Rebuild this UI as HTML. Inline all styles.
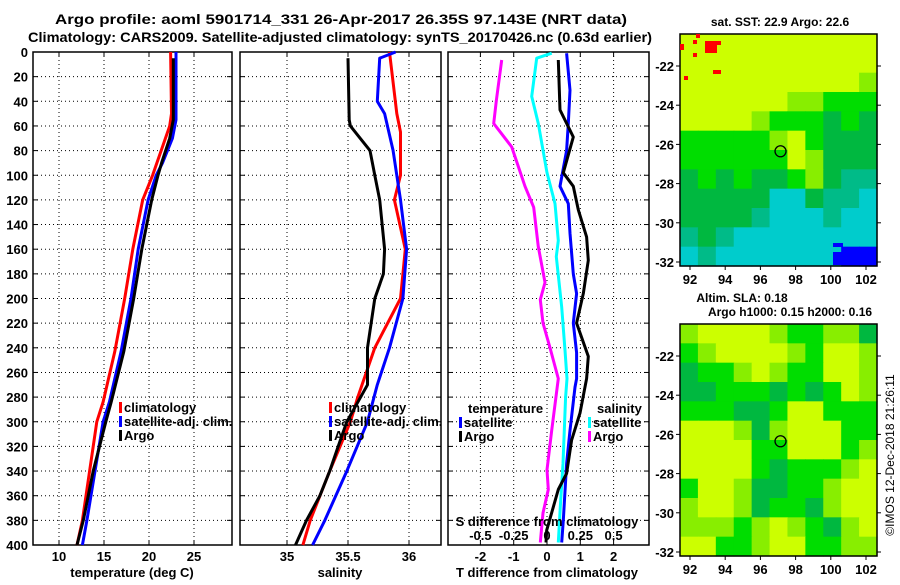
<!DOCTYPE html>
<html><head><meta charset="utf-8"><style>
html,body{margin:0;padding:0;background:#fff;}
svg text{font-family:"Liberation Sans",sans-serif;font-weight:bold;fill:#000;}
</style></head><body>
<svg id="c" xmlns="http://www.w3.org/2000/svg" width="900" height="580" viewBox="0 0 900 580">
<text x="55" y="24" font-size="14" textLength="572" lengthAdjust="spacingAndGlyphs">Argo profile: aoml 5901714_331 26-Apr-2017 26.35S 97.143E (NRT data)</text>
<text x="28" y="42" font-size="14" textLength="624" lengthAdjust="spacingAndGlyphs">Climatology: CARS2009. Satellite-adjusted climatology: synTS_20170426.nc (0.63d earlier)</text>
<g id="g"></g>
</svg>
<script>
// ---- data ----
const depthTicks=[0,20,40,60,80,100,120,140,160,180,200,220,240,260,280,300,320,340,360,380,400];
const tempTicks=[10,15,20,25];
const salTicks=[35,35.5,36];
const salTickLabels=["35","35.5","36"];
const dtTicks=[-2,-1,0,1,2];
const dsTicks=[-0.5,-0.25,0,0.25,0.5];
const dsTickLabels=["-0.5","-0.25","0","0.25","0.5"];
const tClimD=[0,50,60,79,100,120,160,200,243,284,300,340,380,400];
const tClimV=[22.4,22.5,22.3,21.4,20.4,19.3,18.2,17.3,16.2,14.9,14.2,13.4,12.6,12.0];
const tSatD=[0,55,70,90,100,120,160,200,243,284,300,340,380,400];
const tSatV=[23.0,23.0,22.6,21.5,20.8,19.9,18.8,18.0,16.9,15.6,14.9,14.0,13.1,12.6];
const tArgoD=[5,55,70,90,100,120,160,200,243,284,300,340,380,400];
const tArgoV=[22.7,22.7,22.3,21.4,21.0,20.3,19.2,18.3,17.2,15.8,15.2,13.8,12.7,12.0];
const sClimD=[0,50,65,100,120,160,200,240,280,300,340,380,400];
const sClimV=[35.84,35.90,35.93,35.93,35.88,35.97,35.93,35.72,35.58,35.52,35.35,35.19,35.13];
const sSatD=[0,5,40,50,80,100,120,160,200,240,270,300,340,380,400];
const sSatV=[35.89,35.76,35.74,35.80,35.87,35.90,35.93,35.98,35.95,35.84,35.74,35.66,35.49,35.31,35.21];
const sArgoD=[5,55,60,70,80,100,120,160,180,200,240,270,300,320,340,360,380,400];
const sArgoV=[35.5,35.51,35.52,35.6,35.68,35.72,35.76,35.8,35.79,35.72,35.66,35.66,35.49,35.42,35.35,35.27,35.16,35.07];
const dsArgoD=[6.5,39,58,77,109,126,158,187,201,220,239,265,307,339,355,374,398];
const dsArgoV=[-0.34,-0.38,-0.40,-0.265,-0.165,-0.10,-0.065,-0.015,-0.05,-0.03,0.02,0.085,0.035,0.0,0.01,-0.03,-0.05];
const dsSatD=[1,5,36,58,98,123,153,166,207,242,265,280,334,369,398];
const dsSatV=[0.035,-0.077,-0.115,-0.065,0,0.06,0.085,0.07,0.11,0.135,0.15,0.14,0.12,0.10,0.085];
const dtSatD=[1,31,58,80,109,123,147,180,196,220,244,265,272,307,334,380,398];
const dtSatV=[0.59,0.69,0.64,0.59,0.39,0.64,0.69,0.79,0.89,0.79,0.89,0.89,0.84,0.69,0.59,0.49,0.44];
const dtArgoD=[6.5,47,69,98,109,128,150,169,196,220,247,265,293,315,342,355,388,398];
const dtArgoV=[0.34,0.39,0.79,0.49,0.79,0.94,1.19,1.24,1.09,0.89,1.24,1.19,0.99,0.74,0.59,0.34,-0.01,-0.03];
const lonTicks=[92,94,96,98,100,102];
const latTicks=[-22,-24,-26,-28,-30,-32];
const sstGrid=["YYYYYYYYYYY","YYYYYYYYYYY","YYYYYYYYYYL","YYYYYYLLGGG","YYYYLGGGDGD","GGGGGLYGDDD","GGGGGGYLDDD","DGDGDDGLDTT","DDDDDCCDTTC","DDDDTCCCTCC","TDTCCCCCCCC","CTCCCCCCCBB"];
const slaGrid=["LYYYYLGGLLD","GLYYYYLGYYL","DGGLYLGGYYL","DDGGGDGDGYL","GGGDDGYYGGG","YYYLDLYYYGG","YYYYGGYYYGL","YYYYGDGGGLY","GYYLDDGGLYY","LYYLDGGDLYY","LLLGLYLGDLY","YYGGLYYGGLL"];
const palette={Y:"#ccff00",L:"#88ee00",G:"#00dd00",D:"#00b840",T:"#00bb88",C:"#00cccc",B:"#0000ff"};
const argoLon=97.143, argoLat=-26.35;

// ---- helpers ----
const NS="http://www.w3.org/2000/svg";
const G=document.getElementById('g');
function mk(tag,attrs,parent){const e=document.createElementNS(NS,tag);for(const k in attrs)e.setAttribute(k,attrs[k]);(parent||G).appendChild(e);return e;}
const Y0=52,Y1=545;
const yD=d=>Y0+d*(Y1-Y0)/400;
const xT=t=>59+(t-10)*9;
const xS=s=>287+(s-35)*122;
const xDT=v=>547+v*33.3;
const xDS=v=>547+v*133.2;

function panel(name,x0,x1,vx){
  const grid=mk('g',{});
  
  
  depthTicks.forEach(d=>{
    if(d>0&&d<400){mk('line',{x1:x0,x2:x1,y1:yD(d),y2:yD(d),stroke:'#000','stroke-width':1,'stroke-dasharray':'1,3'},grid);}
    mk('line',{x1:x0,x2:x0+5,y1:yD(d),y2:yD(d),stroke:'#000','stroke-width':1},grid);
    mk('line',{x1:x1-5,x2:x1,y1:yD(d),y2:yD(d),stroke:'#000','stroke-width':1},grid);
  });
  vx.forEach(x=>{
    mk('line',{x1:x,x2:x,y1:Y0,y2:Y1,stroke:'#000','stroke-width':1,'stroke-dasharray':'1,3'},grid);
    mk('line',{x1:x,x2:x,y1:Y1-5,y2:Y1,stroke:'#000','stroke-width':1},grid);
    mk('line',{x1:x,x2:x,y1:Y0,y2:Y0+5,stroke:'#000','stroke-width':1},grid);
  });
  const r=mk('rect',{x:x0,y:Y0,width:x1-x0,height:Y1-Y0,fill:'none',stroke:'#000','stroke-width':1.5});
  
  
}
function line(name,ds,vs,fx,color){
  const p=ds.map((d,i)=>fx(vs[i]).toFixed(1)+','+yD(d).toFixed(1)).join(' ');
  const e=mk('polyline',{points:p,fill:'none',stroke:color,'stroke-width':3,'stroke-linejoin':'round'});
  
  
}
function txt(name,x,y,s,size,anchor){
  const e=mk('text',{x:x,y:y,'font-size':size||13,'text-anchor':anchor||'start'});
  e.textContent=s;
  
  
  return e;
}
function legend(name,x,y,color,label){
  const b=mk('rect',{x:x,y:y-10,width:3,height:11,fill:color});
  
  
  txt(name+'-label',x+5,y,label,13);
}

// ---- panel 1: temperature ----
panel('temperature-panel',33,232,tempTicks.map(xT));
depthTicks.forEach(d=>txt('depth-tick-'+d,28,yD(d)+5,String(d),13,'end'));
tempTicks.forEach(t=>txt('temp-tick-'+t,xT(t),561,String(t),13,'middle'));
txt('temperature-axis-title',132,577,'temperature (deg C)',13,'middle');
line('temp-climatology-line',tClimD,tClimV,xT,'#ff0000');
line('temp-satellite-line',tSatD,tSatV,xT,'#0000ff');
line('temp-argo-line',tArgoD,tArgoV,xT,'#000000');
legend('temp-legend-climatology',119,412,'#ff0000','climatology');
legend('temp-legend-satellite',119,426,'#0000ff','satellite-adj. clim.');
legend('temp-legend-argo',119,440,'#000000','Argo');

// ---- panel 2: salinity ----
panel('salinity-panel',240,441,salTicks.map(xS));
salTicks.forEach((s,i)=>txt('sal-tick-'+i,xS(s),561,salTickLabels[i],13,'middle'));
txt('salinity-axis-title',340,577,'salinity',13,'middle');
line('sal-climatology-line',sClimD,sClimV,xS,'#ff0000');
line('sal-satellite-line',sSatD,sSatV,xS,'#0000ff');
line('sal-argo-line',sArgoD,sArgoV,xS,'#000000');
legend('sal-legend-climatology',329,412,'#ff0000','climatology');
legend('sal-legend-satellite',329,426,'#0000ff','satellite-adj. clim.');
legend('sal-legend-argo',329,440,'#000000','Argo');

// ---- panel 3: differences ----
panel('difference-panel',448,649,dtTicks.map(xDT));
dtTicks.forEach(t=>txt('dt-tick-'+t,xDT(t),561,String(t),13,'middle'));
txt('t-diff-axis-title',547,577,'T difference from climatology',13,'middle');
line('ds-argo-line',dsArgoD,dsArgoV,xDS,'#ff00ff');
line('ds-satellite-line',dsSatD,dsSatV,xDS,'#00ffff');
line('dt-satellite-line',dtSatD,dtSatV,xDT,'#0000ff');
line('dt-argo-line',dtArgoD,dtArgoV,xDT,'#000000');
txt('s-diff-axis-title',547,526,'S difference from climatology',13,'middle');
dsTicks.forEach((s,i)=>txt('ds-tick-'+i,xDS(s),540,dsTickLabels[i],13,'middle'));
txt('legend-temperature-heading',468,413,'temperature',13);
legend('diff-legend-t-satellite',459,427,'#0000ff','satellite');
legend('diff-legend-t-argo',459,441,'#000000','Argo');
txt('legend-salinity-heading',597,413,'salinity',13);
legend('diff-legend-s-satellite',588,427,'#00ffff','satellite');
legend('diff-legend-s-argo',588,441,'#ff00ff','Argo');

// ---- maps ----
function map(name,gridRows,top,bottom,latRef){
  const x0=680,x1=877,w=x1-x0,h=bottom-top;
  const lonX=lo=>690+(lo-92)*17.6;
  const latY=la=>latRef+(-22-la)*19.6;
  const rows=gridRows.length, cols=gridRows[0].length;
  const cw=w/cols, ch=h/rows;
  const cg=mk('g',{});
  
  
  gridRows.forEach((row,r)=>{for(let c=0;c<cols;c++){
    mk('rect',{x:(x0+c*cw).toFixed(2),y:(top+r*ch).toFixed(2),width:(cw+0.6).toFixed(2),height:(ch+0.6).toFixed(2),fill:palette[row[c]]},cg);
  }});
  const f=mk('rect',{x:x0,y:top,width:w,height:h,fill:'none',stroke:'#000','stroke-width':1.5});
  
  
  latTicks.forEach(la=>{
    mk('line',{x1:x0-4,x2:x0,y1:latY(la),y2:latY(la),stroke:'#000'});
    mk('line',{x1:x1,x2:x1+4,y1:latY(la),y2:latY(la),stroke:'#000'});
    txt(name+'-lat-'+la,674,latY(la)+5,String(la),13,'end');
  });
  lonTicks.forEach(lo=>{
    mk('line',{x1:lonX(lo),x2:lonX(lo),y1:bottom,y2:bottom+4,stroke:'#000'});
    txt(name+'-lon-'+lo,lonX(lo),bottom+18,String(lo),13,'middle');
  });
  const m=mk('circle',{cx:lonX(argoLon),cy:latY(argoLat),r:5.5,fill:'none',stroke:'#000','stroke-width':1.3});
  
  
}
txt('sst-map-title',780,26,'sat. SST: 22.9 Argo: 22.6',12,'middle');
map('sst-map',sstGrid,34,266,66);
[[680,44,4,6],[693,40,4,4],[696,34,4,4],[705,41,12,12],[711,41,10,4],[693,53,4,4],[713,70,8,4],[684,76,4,4]].forEach((r,i)=>{
  const e=mk('rect',{x:r[0],y:r[1],width:r[2],height:r[3],fill:'#ff0000'});
  
  
});
[[833,243,10,4],[845,248,10,10],[833,252,40,13],[852,255,20,10]].forEach((r,i)=>{
  const e=mk('rect',{x:r[0],y:r[1],width:r[2],height:r[3],fill:'#0000ff'});
  
  
});
txt('sla-title-1',742,302,'Altim. SLA: 0.18',12,'middle');
txt('sla-title-2',790,316,'Argo h1000: 0.15 h2000: 0.16',12,'middle');
map('sla-map',slaGrid,324,556,356);
const cr=txt('imos-credit',0,0,'©IMOS 12-Dec-2018 21:26:11',12,'middle');
cr.setAttribute('style','font-weight:normal');
cr.setAttribute('transform','translate(894,455) rotate(-90)');
</script>
</body></html>
